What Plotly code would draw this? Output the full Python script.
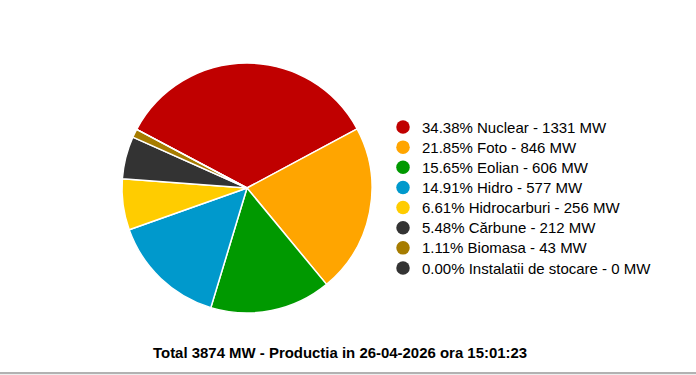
import plotly.graph_objects as go

categories = ["Nuclear", "Foto", "Eolian", "Hidro", "Hidrocarburi", "Cărbune", "Biomasa", "Instalatii de stocare"]
values_mw = [1331, 846, 606, 577, 256, 212, 43, 0]
percents = [34.38, 21.85, 15.65, 14.91, 6.61, 5.48, 1.11, 0.00]
colors = ["#c00000", "#ffa500", "#009900", "#0099cc", "#ffcc00", "#333333", "#a67c00", "#333333"]
total_mw = 3874
title_text = f"Total {total_mw} MW - Productia in 26-04-2026 ora 15:01:23"

W, H = 696, 375
FONT = "Arial, Liberation Sans, sans-serif"

legend_labels = [f"{p:.2f}% {c} - {v} MW" for c, v, p in zip(categories, values_mw, percents)]
rows = list(range(len(categories)))

fig = go.Figure()
fig.add_trace(go.Pie(
    labels=categories,
    values=values_mw,
    marker=dict(colors=colors, line=dict(color="white", width=1.5)),
    sort=False,
    direction="clockwise",
    rotation=298,
    textinfo="none",
    hoverinfo="label+value+percent",
    showlegend=False,
    domain=dict(x=[122 / W, 372 / W], y=[(H - 313) / H, (H - 63) / H]),
))

# legend drawn as data-driven markers + labels on a hidden axis pair
fig.add_trace(go.Scatter(
    x=[0] * len(rows), y=rows, mode="markers",
    marker=dict(symbol="circle", size=13.5, color=colors),
    hoverinfo="skip", showlegend=False, cliponaxis=False,
    xaxis="x", yaxis="y",
))

row_h = 20.14
y_top = 127 - row_h / 2
y_bot = 268 + row_h / 2

annotations = [dict(
    text=lab, x=1, y=r, xref="x", yref="y",
    xanchor="left", yanchor="middle", showarrow=False,
    font=dict(family=FONT, size=15, color="#000000"),
) for lab, r in zip(legend_labels, rows)]

annotations.append(dict(
    text=f"<b>{title_text}</b>",
    x=340 / W, y=(H - 352) / H, xref="paper", yref="paper",
    xanchor="center", yanchor="middle", showarrow=False,
    font=dict(family=FONT, size=14.95, color="#000000"),
))

fig.update_layout(
    width=W, height=H,
    margin=dict(l=0, r=0, t=0, b=0),
    paper_bgcolor="white", plot_bgcolor="rgba(0,0,0,0)",
    font=dict(family=FONT, size=14, color="#000000"),
    showlegend=False,
    xaxis=dict(visible=False, domain=[403 / W, 420 / W], range=[0, 1], fixedrange=True),
    yaxis=dict(visible=False, domain=[(H - y_bot) / H, (H - y_top) / H],
               range=[len(rows) - 0.5, -0.5], fixedrange=True),
    annotations=annotations,
    shapes=[dict(type="line", xref="paper", yref="paper",
                 x0=0, x1=1, y0=(H - 373) / H, y1=(H - 373) / H,
                 line=dict(color="#999999", width=1.5)),
            dict(type="rect", xref="paper", yref="paper",
                 x0=0, x1=1, y0=0, y1=(H - 374) / H,
                 line=dict(width=0), fillcolor="#eeeeee")],
)

fig.write_html("out.html", config={"displayModeBar": False},
               post_script="document.body.style.margin='0';")
